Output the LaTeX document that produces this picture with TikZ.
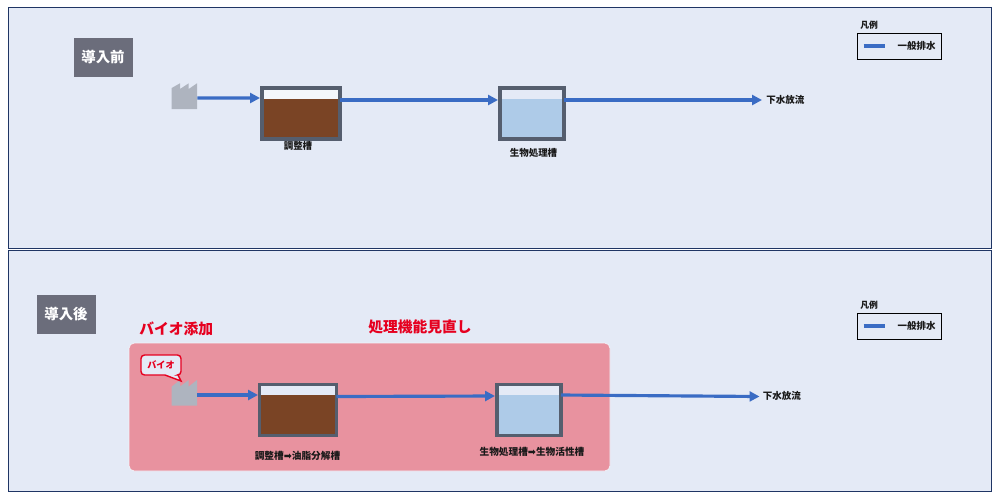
\documentclass[tikz,border=0pt]{standalone}
\usepackage{fontspec}
\setmainfont{Noto Sans CJK JP}
\newfontfamily\symfont{DejaVu Sans}
\usetikzlibrary{arrows.meta}
\usetikzlibrary{calc}
\usetikzlibrary{positioning}
\definecolor{panelfill}{HTML}{E4EAF6}
\definecolor{panelline}{HTML}{1F3564}
\definecolor{tagfill}{HTML}{6B6D7B}
\definecolor{factorygray}{HTML}{AEB4BF}
\definecolor{tankline}{HTML}{555E6E}
\definecolor{sludge}{HTML}{7A4425}
\definecolor{water}{HTML}{AECBE8}
\definecolor{flowblue}{HTML}{3A6CC4}
\definecolor{zonepink}{HTML}{E8929F}
\definecolor{bioRed}{HTML}{E6001F}
\tikzset{
  panel/.style={draw=panelline,fill=panelfill,line width=0.5pt},
  tag/.style={draw=panelfill,fill=tagfill,line width=0.4pt,text=white,minimum width=1.2cm,minimum height=0.8cm,inner sep=0pt,font=\fontsize{8.2}{9}\selectfont\bfseries},
  tank/.style n args={3}{draw=tankline,line width=1.8pt,fill=#2,minimum width=#1,minimum height=1.02cm,inner sep=0pt,outer sep=0pt,
    path picture={\fill[#3] ($(path picture bounding box.north west)!0.21!(path picture bounding box.south west)$) rectangle (path picture bounding box.south east);}},
  flow/.style={draw=flowblue,line width=1.8pt,-{Triangle[length=5.6pt,width=5.6pt]}},
  txt/.style={font=\fontsize{5.4}{6}\selectfont\bfseries,text=black!90,inner sep=0pt},
  redtxt/.style={font=\fontsize{8.4}{9}\selectfont\bfseries,text=bioRed,inner sep=0pt},
  factory/.style={fill=factorygray},
  spot/.style={minimum width=0.52cm,minimum height=0.52cm,inner sep=0pt,outer sep=0pt},
  legendbox/.style={draw=black,line width=0.5pt,minimum width=1.68cm,minimum height=0.52cm,inner sep=0pt},
  legendline/.style={draw=flowblue,line width=1.8pt}
}
\begin{document}
\begin{tikzpicture}[x=0.02cm,y=-0.02cm]
\useasboundingbox (0,0) rectangle (1000,498);
\fill[white] (0,0) rectangle (1000,498);
\draw[panel] (8,7) rectangle (991,248);
\draw[panel] (8,250) rectangle (991,491);
\draw[draw=panelfill!50!white,fill=zonepink,line width=0.4pt,rounded corners=3pt] (129,343) rectangle (610,471);

% before
\node[tag] (tagBefore) at (103,57) {導入前};
\node[spot] (factA) at (184.3,96.3) {};
\fill[factory] (171.7,88) -- (180,83.3) -- (180,89) -- (188.7,83.3) -- (188.7,89) -- (197,83.3) -- (197,109) -- (171.7,109) -- cycle;
\node[tank={1.56cm}{white!60!panelfill}{sludge}] (tankA) at (301,113.5) {};
\node[tank={1.28cm}{panelfill}{water}] (tankB) at (532,113.5) {};
\node[txt] (labelA) at (298,146) {調整槽};
\node[txt] (labelB) at (533.5,153) {生物処理槽};
\node[txt,anchor=west] (outA) at (766,100) {下水放流};
\draw[flow] ($(factA.east)+(0,1.7)$) -- ($(tankA.west)+(-2,-15.5)$);
\draw[flow] ($(tankA.east)+(0,-13.5)$) -- ($(tankB.west)+(-2,-13.5)$);
\draw[flow] ($(tankB.east)+(0,-13.5)$) -- ($(outA.west)+(-4,0)$);

\node[txt,anchor=west,font=\fontsize{5}{6}\selectfont\bfseries] (legendTitleA) at (860,25) {凡例};
\node[legendbox] (legendA) at (899,46) {};
\node[txt,anchor=east] (legendTextA) at (936,46) {一般排水};
\draw[legendline] ($(legendA.west)+(7,0)$) -- ($(legendA.west)+(28,0)$);

% after
\node[tag] (tagAfter) at (66,314) {導入後};
\node[redtxt,anchor=west] (bioLabel) at (139,329) {バイオ添加};
\node[redtxt,anchor=west] (reviewLabel) at (368,327) {処理機能見直し};
\node[spot] (factB) at (184.3,393) {};
\fill[factory] (171.7,386.6) -- (180,380) -- (180,386.6) -- (188.7,380) -- (188.7,386.6) -- (197,380) -- (197,405.7) -- (171.7,405.7) -- cycle;
\draw[draw=bioRed,fill=panelfill,line width=0.8pt] (181,381) -- (165,375) [rounded corners=2pt] -- (141,375) -- (141,355) -- (181,355) -- (181,375) [sharp corners] -- (178,375) -- cycle;
\node[txt,text=bioRed,font=\fontsize{5.2}{6}\selectfont\bfseries] (bioTag) at (161,365) {バイオ};
\node[tank={1.54cm}{panelfill}{sludge}] (tankC) at (298,410) {};
\node[tank={1.28cm}{panelfill}{water}] (tankD) at (529,410) {};
\node[txt,font=\fontsize{5.5}{6}\selectfont\bfseries] (labelC) at (297.5,456) {調整槽{\symfont ➡}油脂分解槽};
\node[txt,font=\fontsize{5.5}{6}\selectfont\bfseries] (labelD) at (532,452) {生物処理槽{\symfont ➡}生物活性槽};
\node[txt,anchor=west] (outB) at (762.5,396) {下水放流};
\draw[flow] ($(factB.east)+(0,2)$) -- ($(tankC.west)+(-1.5,-15)$);
\draw[flow] ($(tankC.east)+(0,-13.5)$) -- ($(tankD.west)+(-2,-14)$);
\draw[flow] ($(tankD.east)+(0,-15)$) -- ($(outB.west)+(-3,0.5)$);

\node[txt,anchor=west,font=\fontsize{5}{6}\selectfont\bfseries] (legendTitleB) at (860,305) {凡例};
\node[legendbox] (legendB) at (899,326) {};
\node[txt,anchor=east] (legendTextB) at (936,326) {一般排水};
\draw[legendline] ($(legendB.west)+(7,0)$) -- ($(legendB.west)+(28,0)$);
\end{tikzpicture}
\end{document}
